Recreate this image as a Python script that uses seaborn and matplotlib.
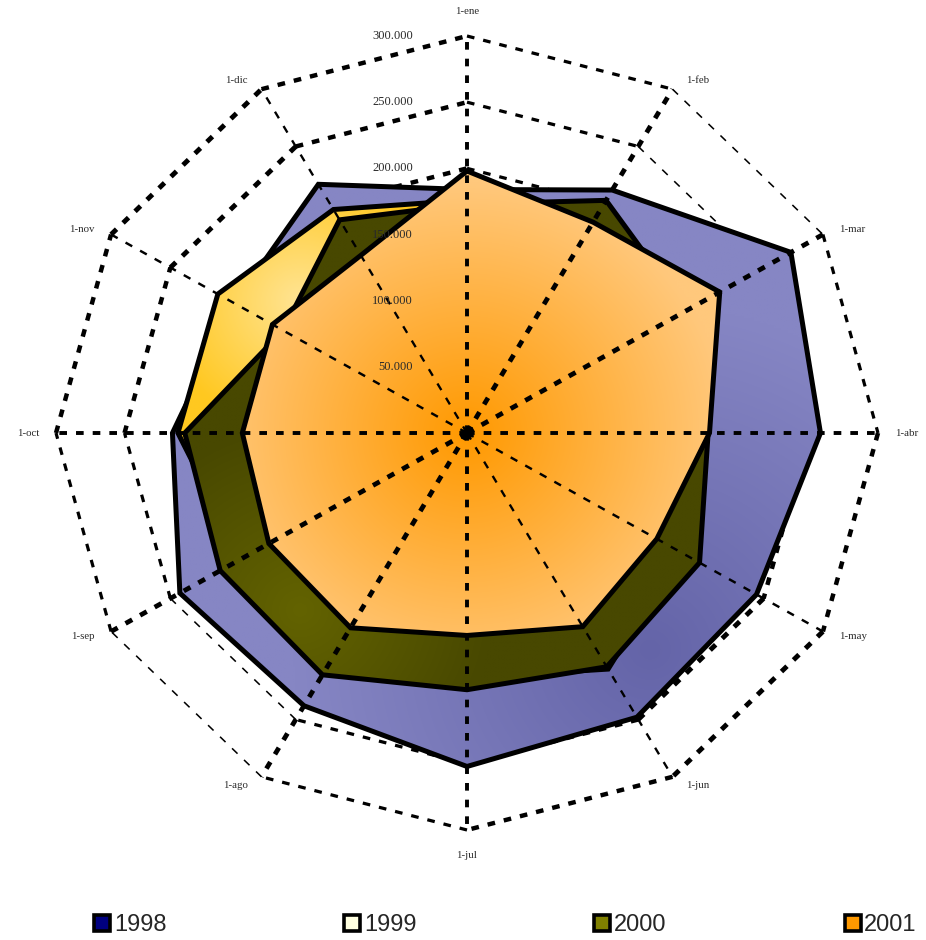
import numpy as np
import pandas as pd
import matplotlib
matplotlib.use('Agg')
import matplotlib.pyplot as plt
import seaborn as sns
from matplotlib.colors import to_rgb
from matplotlib.lines import Line2D

# ---------------- data ----------------
months = ['1-ene', '1-feb', '1-mar', '1-abr', '1-may', '1-jun',
          '1-jul', '1-ago', '1-sep', '1-oct', '1-nov', '1-dic']
years = ['1998', '1999', '2000', '2001']
v1998 = [184000, 212000, 273000, 258000, 244000, 248000, 252000, 238000, 242000, 215000, 196000, 217000]
v1999 = [176000, 185000, 190000, 170000, 180000, 206000, 185000, 200000, 190000, 211000, 210000, 195000]
v2000 = [173000, 203000, 185000, 176000, 196000, 204000, 194000, 211000, 208000, 206000, 155000, 186000]
v2001 = [198000, 184000, 213000, 177000, 160000, 169000, 153000, 170000, 167000, 164000, 164000, 155000]
ring_values = [50000, 100000, 150000, 200000, 250000, 300000]
ring_labels = ['50.000', '100.000', '150.000', '200.000', '250.000', '300.000']
legend_colors = ['#000080', '#FFFFE0', '#808000', '#FF9900']

series = dict(zip(years, [v1998, v1999, v2000, v2001]))

# gradient styles (center in data units, inner colour, outer colour, radius)
styles = {
    '1998': ((134000, -164000), '#6464A8', '#8686C4', 260000),
    '1999': ((-122000, 100000), '#FFE494', '#FFC820', 100000),
    '2000': ((-122000, -134000), '#636300', '#484800', 140000),
    '2001': ((0, 0), '#FF9900', '#FFC87C', 190000),
}

# ---------------- figure ----------------
sns.set_theme(style='white')
plt.rcParams['lines.scale_dashes'] = False
W, H = 926, 940
fig = plt.figure(figsize=(W / 100, H / 100), dpi=100)
ax = fig.add_axes([0, 0, 1, 1])
ax.set_axis_off()

cx_px, cy_px = 467, 433
rx_px, ry_px = 411, 397   # pixels per 300000 in x and y
vmax = 300000
xlim = (-cx_px / rx_px * vmax, (W - cx_px) / rx_px * vmax)
ylim = (-(H - cy_px) / ry_px * vmax, cy_px / ry_px * vmax)

n = len(months)
theta = np.deg2rad(90 - 30 * np.arange(n))
cosv, sinv = np.cos(theta), np.sin(theta)

rows = []
for y in years:
    vals = series[y]
    for i in list(range(n)) + [0]:
        rows.append(dict(year=y, order=len(rows), month=months[i],
                         x=vals[i] * cosv[i], y=vals[i] * sinv[i]))
df = pd.DataFrame(rows)

gx = np.linspace(xlim[0], xlim[1], 400)
gy = np.linspace(ylim[0], ylim[1], 400)
GX, GY = np.meshgrid(gx, gy)

z = 2
for yname in years:
    sub = df[df.year == yname]
    (ccx, ccy), cin, cout, rad = styles[yname]
    patch = ax.fill(sub.x.values, sub.y.values, facecolor='none', edgecolor='none', zorder=z)[0]
    d = np.clip(np.hypot(GX - ccx, GY - ccy) / rad, 0, 1)
    c0, c1 = np.array(to_rgb(cin)), np.array(to_rgb(cout))
    img = c0 + (c1 - c0) * d[..., None]
    im = ax.imshow(img, extent=[xlim[0], xlim[1], ylim[0], ylim[1]], origin='lower',
                   aspect='auto', interpolation='bilinear', zorder=z)
    im.set_clip_path(patch)
    sns.lineplot(data=sub, x='x', y='y', estimator=None, sort=False, color='black',
                 lw=3.6, ax=ax, zorder=z + 1, legend=False,
                 solid_joinstyle='miter')
    z += 2


def pen_width(dx, dy):
    # anisotropic "calligraphic" pen look of the original grid lines
    phi = np.degrees(np.arctan2(dy * ry_px, dx * rx_px))
    px = 1.5 + 3.4 * abs(np.sin(np.radians(phi - 135)))
    return px * 0.72


dash = (0, (5.5, 6.5))
# rings (behind the filled areas)
for rv in ring_values:
    xs = rv * cosv
    ys = rv * sinv
    for i in range(n):
        j = (i + 1) % n
        ax.plot([xs[i], xs[j]], [ys[i], ys[j]], color='black',
                lw=pen_width(xs[j] - xs[i], ys[j] - ys[i]), linestyle=dash,
                dash_capstyle='butt', zorder=1)
# spokes (on top)
for i in range(n):
    x1, y1 = vmax * cosv[i], vmax * sinv[i]
    ax.plot([0, x1], [0, y1], color='black', lw=pen_width(x1, y1), linestyle=dash,
            dash_capstyle='butt', zorder=20)
ax.plot([0], [0], marker='o', color='black', ms=7, zorder=21)

# ring value labels
for rv, lab in zip(ring_values, ring_labels):
    ax.annotate(lab, xy=(0, rv), xytext=(-54, 0), textcoords='offset pixels',
                ha='right', va='center', fontsize=9, color='#2a2a2a',
                family=['Liberation Serif', 'DejaVu Serif'], zorder=22)

# month labels
for i, m in enumerate(months):
    c, s = cosv[i], sinv[i]
    if abs(c) < 1e-6:
        off = (0, 25 * np.sign(s))
        ha = 'center'
    else:
        off = (np.sign(c) * (10 + 7 * abs(c)), 10 * s)
        ha = 'left' if c > 0 else 'right'
    ax.annotate(m, xy=(vmax * c, vmax * s), xytext=off, textcoords='offset pixels',
                ha=ha, va='center', fontsize=7.8, color='#2a2a2a',
                family=['Liberation Serif', 'DejaVu Serif'], zorder=22)

ax.set_xlim(*xlim)
ax.set_ylim(*ylim)

handles = [Line2D([], [], marker='s', ls='none', markersize=11,
                  markerfacecolor=c, markeredgecolor='black', markeredgewidth=2.6)
           for c in legend_colors]
fig.legend(handles, years, loc='center', bbox_to_anchor=(505 / W, 1 - 925 / H),
           ncol=4, frameon=False, handlelength=0.75, handletextpad=0.12,
           columnspacing=7.5,
           prop={'family': ['Liberation Sans', 'DejaVu Sans'], 'size': 17})

fig.savefig('out.png', dpi=100)
